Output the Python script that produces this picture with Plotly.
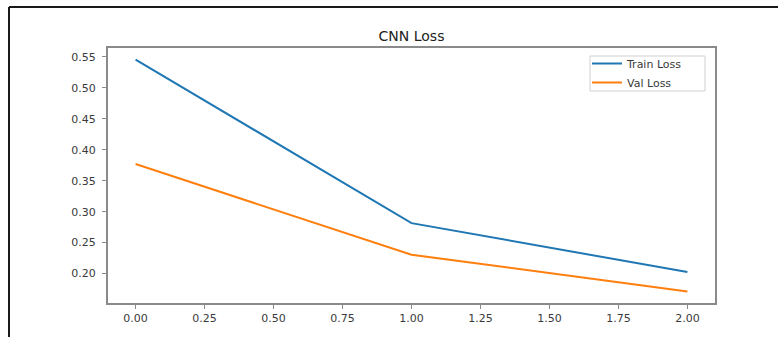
import plotly.graph_objects as go

# Training history for the CNN (one value per epoch)
epochs = [0, 1, 2]
train_loss = [0.5458, 0.2815, 0.2025]
val_loss = [0.377, 0.2305, 0.1712]

x_ticks = [0.0, 0.25, 0.5, 0.75, 1.0, 1.25, 1.5, 1.75, 2.0]
y_ticks = [0.20, 0.25, 0.30, 0.35, 0.40, 0.45, 0.50, 0.55]

W, H = 778, 337
L, R, T, B = 108, 63, 48, 34
pw, ph = W - L - R, H - T - B

font = "DejaVu Sans"
axis_col = "#8a8a8a"
text_col = "#3a3a3a"


def px_x(px):
    return (px - L) / pw


def px_y(py):
    return (H - B - py) / ph


fig = go.Figure()
fig.add_trace(go.Scatter(x=epochs, y=train_loss, mode="lines", name="Train Loss",
                         line=dict(color="#1f77b4", width=2)))
fig.add_trace(go.Scatter(x=epochs, y=val_loss, mode="lines", name="Val Loss",
                         line=dict(color="#ff7f0e", width=2)))

# matplotlib-style 5% padding around the data
lo = min(train_loss + val_loss)
hi = max(train_loss + val_loss)
pad = 0.05 * (hi - lo)

axis_common = dict(showgrid=False, zeroline=False, showline=True, mirror=True,
                   linecolor=axis_col, linewidth=2, ticks="outside", ticklen=4,
                   tickcolor=axis_col, tickwidth=1,
                   tickfont=dict(family=font, size=11, color=text_col))

fig.update_xaxes(range=[-0.1, 2.1], tickvals=x_ticks, tickformat=".2f", **axis_common)
fig.update_yaxes(range=[lo - pad, hi + pad], tickvals=y_ticks, tickformat=".2f",
                 ticklabelstandoff=4, **axis_common)

# thin frame around the figure (top and left edges)
fx, fy = px_x(9), px_y(7)
fig.add_shape(type="line", xref="paper", yref="paper", x0=fx, x1=px_x(W + 2),
              y0=fy, y1=fy, line=dict(color="#1a1a1a", width=2))
fig.add_shape(type="line", xref="paper", yref="paper", x0=fx, x1=fx,
              y0=fy, y1=px_y(H + 2), line=dict(color="#1a1a1a", width=2))

# legend frame
fig.add_shape(type="rect", xref="paper", yref="paper",
              x0=px_x(590), x1=px_x(705), y0=px_y(91), y1=px_y(56),
              line=dict(color="#d0d0d0", width=1), fillcolor="rgba(0,0,0,0)")

fig.update_layout(
    width=W, height=H,
    margin=dict(l=L, r=R, t=T, b=B),
    paper_bgcolor="white", plot_bgcolor="white",
    title=dict(text="CNN Loss", x=(L + pw / 2) / W, xanchor="center",
               y=1 - 36 / H, yanchor="middle", yref="container",
               font=dict(family=font, size=14, color="#222")),
    legend=dict(x=px_x(587), y=px_y(49), xanchor="left", yanchor="top",
                bgcolor="rgba(0,0,0,0)", borderwidth=0,
                font=dict(family=font, size=11, color=text_col),
                itemwidth=30, tracegroupgap=0),
    showlegend=True,
)

fig.write_html("out.html")
